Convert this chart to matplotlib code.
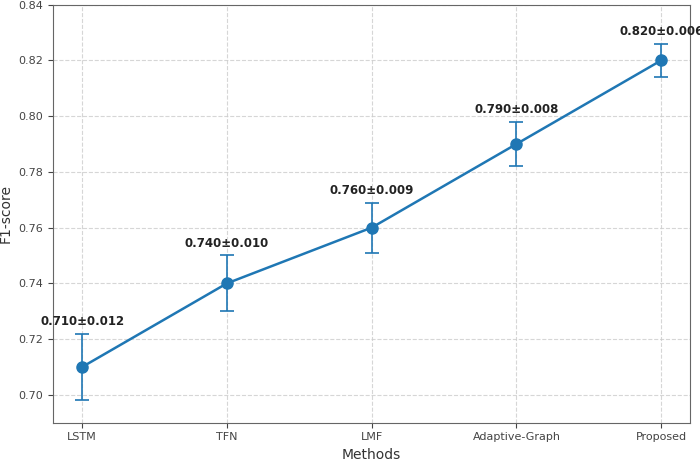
import numpy as np
import matplotlib
matplotlib.use('Agg')
import matplotlib.pyplot as plt

# data
methods = ['LSTM', 'TFN', 'LMF', 'Adaptive-Graph', 'Proposed']
f1_mean = [0.710, 0.740, 0.760, 0.790, 0.820]
f1_std = [0.012, 0.010, 0.009, 0.008, 0.006]

x = np.arange(len(methods))

fig, ax = plt.subplots(figsize=(7, 4.62), dpi=100)
ax.errorbar(x, f1_mean, yerr=f1_std, fmt='-o', color='#1f77b4',
            linewidth=1.8, markersize=8, capsize=5, elinewidth=1.2, capthick=1.2)

for xi, m, s in zip(x, f1_mean, f1_std):
    ax.annotate(f'{m:.3f}\u00b1{s:.3f}', (xi, m + s), xytext=(0, 4),
                textcoords='offset points', ha='center', va='bottom',
                fontsize=8.5, fontweight='bold', color='#222222')

ax.set_xticks(x)
ax.set_xticklabels(methods)
ax.set_ylim(0.69, 0.84)
ax.set_xlabel('Methods', fontsize=10, color='#333333')
ax.set_ylabel('F1-score', fontsize=10, color='#333333')
ax.tick_params(labelsize=8, colors='#444444')
ax.grid(True, linestyle='--', color='#cccccc', alpha=0.8, linewidth=0.8)
for sp in ax.spines.values():
    sp.set_color('#666666')

plt.subplots_adjust(left=0.076, right=0.986, top=0.99, bottom=0.085)
plt.savefig('out.png', dpi=100)
